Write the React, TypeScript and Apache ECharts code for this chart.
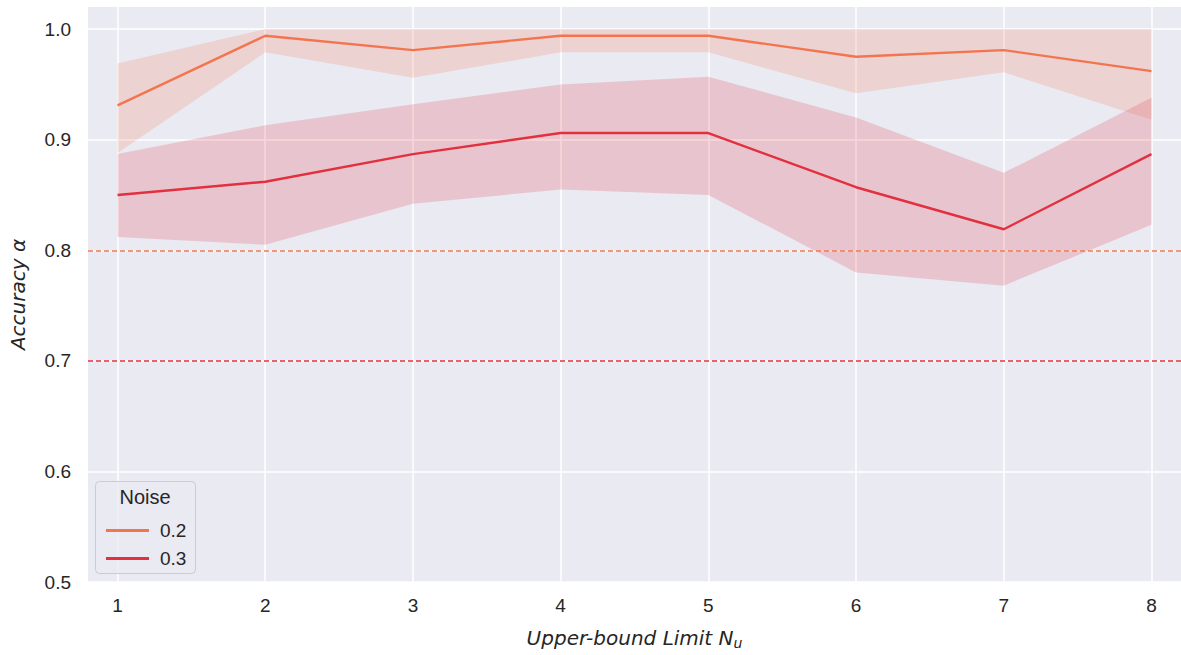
import React, { useEffect, useRef } from "react";
import * as echarts from "echarts";

const xValues = [1, 2, 3, 4, 5, 6, 7, 8];
const mean02 = [0.931, 0.994, 0.981, 0.994, 0.994, 0.975, 0.981, 0.962];
const upper02 = [0.969, 1.0, 1.0, 1.0, 1.0, 1.0, 1.0, 1.0];
const lower02 = [0.888, 0.979, 0.956, 0.979, 0.979, 0.942, 0.961, 0.918];
const mean03 = [0.85, 0.862, 0.887, 0.906, 0.906, 0.857, 0.819, 0.887];
const upper03 = [0.887, 0.913, 0.932, 0.95, 0.957, 0.92, 0.87, 0.938];
const lower03 = [0.812, 0.805, 0.842, 0.855, 0.85, 0.78, 0.768, 0.823];
const yTicks = [0.5, 0.6, 0.7, 0.8, 0.9, 1.0];
const thresholds = [0.8, 0.7];
const seriesNames = ["0.2", "0.3"];

const C02 = "#f3754f";
const C03 = "#e3303f";
const TXT = "#262626";
const FONT = "Liberation Sans";

function bandSeries(name: string, lower: number[], upper: number[], color: string) {
  const rows = xValues.map((x, i) => [x, lower[i], upper[i]]);
  return {
    name,
    type: "custom",
    silent: true,
    z: 1,
    data: rows,
    encode: { x: 0, y: [1, 2] },
    renderItem: (params: any, api: any) => {
      if (params.dataIndex !== 0) return null;
      const top = rows.map((r) => api.coord([r[0], r[2]]));
      const bot = rows.map((r) => api.coord([r[0], r[1]])).reverse();
      return {
        type: "polygon",
        shape: { points: top.concat(bot) },
        style: { fill: color, opacity: 0.2 },
      };
    },
  };
}

function lineSeries(name: string, mean: number[], color: string, thr: number) {
  return {
    name,
    type: "line",
    data: xValues.map((x, i) => [x, mean[i]]),
    showSymbol: false,
    symbol: "none",
    color,
    lineStyle: { color, width: 2.4 },
    z: 3,
    markLine: {
      silent: true,
      symbol: "none",
      label: { show: false },
      lineStyle: { color, type: [5, 3], width: 1.5 },
      data: [{ yAxis: thr }],
    },
  };
}

export default function App() {
  const ref = useRef<HTMLDivElement>(null);
  useEffect(() => {
    if (!ref.current) return;
    const chart = echarts.init(ref.current, null, { renderer: "svg" });
    chart.setOption({
      animation: false,
      backgroundColor: "#ffffff",
      grid: { left: 85, right: -2, top: 7, bottom: 72, show: true, backgroundColor: "#eaeaf2", borderWidth: 0 },
      xAxis: {
        type: "value",
        min: 0.8,
        max: 8.2,
        name: "{t|Upper-bound Limit N}{s|u}",
        nameLocation: "middle",
        nameGap: 44,
        nameTextStyle: {
          rich: {
            t: { fontFamily: "DejaVu Sans", fontStyle: "italic", fontSize: 20, color: TXT },
            s: { fontFamily: "DejaVu Sans", fontStyle: "italic", fontSize: 14, color: TXT, padding: [10, 0, 0, 0] },
          },
        },
        axisLine: { show: false },
        axisTick: { show: false, customValues: xValues },
        axisLabel: { customValues: xValues, color: TXT, fontSize: 19, fontFamily: FONT, margin: 14 },
        splitLine: { show: true, lineStyle: { color: "#ffffff", width: 1.5 } },
      },
      yAxis: {
        type: "value",
        min: 0.5,
        max: 1.02,
        name: "Accuracy α",
        nameLocation: "middle",
        nameGap: 60,
        nameTextStyle: { fontFamily: "DejaVu Sans", fontStyle: "italic", fontSize: 20, color: TXT },
        axisLine: { show: false },
        axisTick: { show: false, customValues: yTicks },
        axisLabel: { customValues: yTicks, color: TXT, fontSize: 19, fontFamily: FONT, margin: 17, formatter: (v: number) => v.toFixed(1) },
        splitLine: { show: true, lineStyle: { color: "#ffffff", width: 1.5 } },
      },
      legend: {
        data: seriesNames,
        orient: "vertical",
        left: 101,
        top: 516,
        icon: "rect",
        itemWidth: 43,
        itemHeight: 3,
        itemGap: 9,
        z: 20,
        textStyle: { color: TXT, fontSize: 19, fontFamily: FONT, lineHeight: 19, padding: [0, 0, 0, 6] },
      },
      graphic: [
        {
          type: "rect",
          z: 10,
          shape: { x: 95.5, y: 481.5, width: 100, height: 92, r: 4 },
          style: { fill: "rgba(234,234,242,0.8)", stroke: "#cccccc", lineWidth: 1 },
        },
        {
          type: "text",
          z: 11,
          x: 145,
          y: 497,
          style: { text: "Noise", fill: TXT, fontSize: 20, fontFamily: FONT, align: "center", verticalAlign: "middle" },
        },
      ],
      series: [
        bandSeries("b02", lower02, upper02, C02),
        lineSeries(seriesNames[0], mean02, C02, thresholds[0]),
        bandSeries("b03", lower03, upper03, C03),
        lineSeries(seriesNames[1], mean03, C03, thresholds[1]),
      ],
    });
    return () => chart.dispose();
  }, []);
  return <div ref={ref} style={{ width: 1181, height: 655, position: "absolute", left: 0, top: 0 }} />;
}
